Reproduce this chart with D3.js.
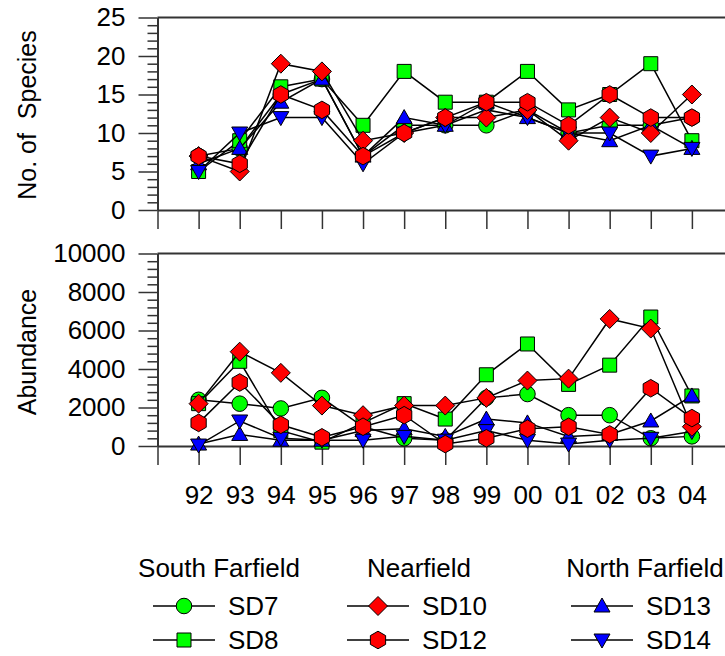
<!DOCTYPE html>
<html>
<head>
<meta charset="utf-8">
<script src="https://cdn.jsdelivr.net/npm/d3@7"></script>
<style>
body { margin: 0; background: #fff; }
text { font-family: Arial, "Liberation Sans", sans-serif; fill: #000; }
</style>
</head>
<body>
<script>
// data
var years = [1992, 1993, 1994, 1995, 1996, 1997, 1998, 1999, 2000, 2001, 2002, 2003, 2004];
var yearLabels = ["92", "93", "94", "95", "96", "97", "98", "99", "00", "01", "02", "03", "04"];
var stations = ["SD7", "SD8", "SD10", "SD12", "SD13", "SD14"];
var groups = ["South Farfield", "Nearfield", "North Farfield"];

var speciesSD7  = [7, 8, 15, 17, 7, 11, 11, 11, 13, 10, 11, 11, 12];
var speciesSD8  = [5, 9, 16, 17, 11, 18, 14, 14, 18, 13, 15, 19, 9];
var speciesSD10 = [7, 5, 19, 18, 9, 10, 12, 12, 13, 9, 12, 10, 15];
var speciesSD12 = [7, 6, 15, 13, 7, 10, 12, 14, 14, 11, 15, 12, 12];
var speciesSD13 = [6, 8, 14, 17, 7, 12, 11, 14, 12, 10, 9, 11, 8];
var speciesSD14 = [5, 10, 12, 12, 6, 10, 11, 13, 12, 10, 10, 7, 8];

var abundanceSD7  = [2400, 2200, 1950, 2500, 1000, 400, 300, 2500, 2700, 1600, 1600, 400, 500];
var abundanceSD8  = [2200, 4400, 800, 200, 1200, 2200, 1400, 3700, 5300, 3200, 4200, 6700, 2600];
var abundanceSD10 = [2200, 4900, 3800, 2100, 1600, 2100, 2100, 2500, 3400, 3500, 6600, 6100, 1000];
var abundanceSD12 = [1200, 3300, 1100, 450, 1000, 1600, 100, 400, 900, 1000, 600, 3000, 1450];
var abundanceSD13 = [100, 600, 300, 300, 800, 900, 500, 1400, 1200, 500, 600, 1300, 2600];
var abundanceSD14 = [50, 1300, 400, 300, 300, 500, 300, 800, 300, 100, 300, 400, 750];

var speciesTicks = [0, 5, 10, 15, 20, 25];
var abundanceTicks = [0, 2000, 4000, 6000, 8000, 10000];

var species = {SD7: speciesSD7, SD8: speciesSD8, SD10: speciesSD10, SD12: speciesSD12, SD13: speciesSD13, SD14: speciesSD14};
var abundance = {SD7: abundanceSD7, SD8: abundanceSD8, SD10: abundanceSD10, SD12: abundanceSD12, SD13: abundanceSD13, SD14: abundanceSD14};

// marker styles
var diamond = { draw: function (c, s) { var r = Math.sqrt(s) / 2; c.moveTo(0, -r); c.lineTo(r, 0); c.lineTo(0, r); c.lineTo(-r, 0); c.closePath(); } };
var hexagon = { draw: function (c, s) { var r = Math.sqrt(s) / 2; for (var i = 0; i < 6; i++) { var a = Math.PI / 3 * i - Math.PI / 2; if (i == 0) c.moveTo(r * Math.cos(a), r * Math.sin(a)); else c.lineTo(r * Math.cos(a), r * Math.sin(a)); } c.closePath(); } };
var triUp = { draw: function (c, s) { var r = Math.sqrt(s) / 2; c.moveTo(0, -r); c.lineTo(r, r * 0.75); c.lineTo(-r, r * 0.75); c.closePath(); } };
var triDown = { draw: function (c, s) { var r = Math.sqrt(s) / 2; c.moveTo(0, r); c.lineTo(r, -r * 0.75); c.lineTo(-r, -r * 0.75); c.closePath(); } };

var styles = {
    SD7:  {fill: "#00ff00", type: d3.symbolCircle, size: 190},
    SD8:  {fill: "#00ff00", type: d3.symbolSquare, size: 196},
    SD10: {fill: "#ff0000", type: diamond, size: 361},
    SD12: {fill: "#ff0000", type: hexagon, size: 310},
    SD13: {fill: "#0000ff", type: triUp, size: 256},
    SD14: {fill: "#0000ff", type: triDown, size: 256}
};
var drawOrder = ["SD7", "SD8", "SD13", "SD14", "SD10", "SD12"];
var legendCols = [["SD7", "SD8"], ["SD10", "SD12"], ["SD13", "SD14"]];

var width = 725, height = 656;
var fontSize = 26;
var titleSize = 25;
var fontFamily = "Arial, 'Liberation Sans', sans-serif";

var svg = d3.select("body").append("svg")
    .attr("width", width)
    .attr("height", height);

var xScale = d3.scaleLinear().domain([1991, 2005]).range([157.5, 733]);
var ySpecies = d3.scaleLinear().domain([0, 25]).range([210, 17.5]);
var yAbundance = d3.scaleLinear().domain([0, 10000]).range([446, 253.5]);

function drawPanel(yScale, majors, minorStep, values, title, titleY, showLabels) {
    var g = svg.append("g");
    var top = yScale.range()[1];
    var bottom = yScale.range()[0];

    // top border
    g.append("line")
        .attr("x1", xScale.range()[0]).attr("x2", width)
        .attr("y1", top).attr("y2", top)
        .attr("stroke", "#333").attr("stroke-width", 2);

    // minor y ticks
    var minors = d3.range(0, yScale.domain()[1] + 1, minorStep).filter(function (v) { return majors.indexOf(v) < 0; });
    g.append("g")
        .attr("transform", "translate(" + xScale.range()[0] + ",0)")
        .call(d3.axisLeft(yScale).tickValues(minors).tickSize(10).tickFormat(""))
        .call(function (a) { a.select(".domain").remove(); a.selectAll("line").attr("stroke", "#333").attr("stroke-width", 1.5); });

    // major y ticks + labels
    g.append("g")
        .attr("transform", "translate(" + xScale.range()[0] + ",0)")
        .call(d3.axisLeft(yScale).tickValues(majors).tickSize(19).tickSizeOuter(0).tickPadding(13).tickFormat(d3.format("d")))
        .call(function (a) {
            a.select(".domain").attr("stroke", "#333").attr("stroke-width", 2);
            a.selectAll("line").attr("stroke", "#333").attr("stroke-width", 1.5);
            a.selectAll("text").attr("font-size", fontSize).attr("font-family", fontFamily);
        });

    // x axis
    g.append("g")
        .attr("transform", "translate(0," + bottom + ")")
        .call(d3.axisBottom(xScale).tickValues(d3.range(1991, 2006)).tickSize(19).tickSizeOuter(0).tickPadding(21)
            .tickFormat(function (d) {
                var i = years.indexOf(d);
                return (showLabels && i >= 0) ? yearLabels[i] : "";
            }))
        .call(function (a) {
            a.select(".domain").attr("stroke", "#333").attr("stroke-width", 2);
            a.selectAll("line").attr("stroke", "#333").attr("stroke-width", 1.5);
            a.selectAll("text").attr("font-size", fontSize).attr("font-family", fontFamily);
        });

    // axis title
    g.append("text")
        .attr("transform", "translate(36," + titleY + ") rotate(-90)")
        .attr("text-anchor", "middle")
        .attr("font-size", titleSize)
        .style("white-space", "pre")
        .text(title);

    // series
    var line = d3.line()
        .x(function (d) { return xScale(d.year); })
        .y(function (d) { return yScale(d.v); });

    drawOrder.forEach(function (st) {
        var pts = years.map(function (yr, i) { return {year: yr, v: values[st][i]}; });
        var s = g.append("g").attr("class", "series " + st);
        s.append("path")
            .datum(pts)
            .attr("d", line)
            .attr("fill", "none")
            .attr("stroke", "#000")
            .attr("stroke-width", 1.5);
        s.selectAll(".mk").data(pts).enter()
            .append("path")
            .attr("class", "mk")
            .attr("d", d3.symbol(styles[st].type, styles[st].size))
            .attr("transform", function (d) { return "translate(" + xScale(d.year) + "," + yScale(d.v) + ")"; })
            .attr("fill", styles[st].fill)
            .attr("stroke", "#000")
            .attr("stroke-width", 1);
    });
}

drawPanel(ySpecies, speciesTicks, 1, species, "No. of  Species", 115, false);
drawPanel(yAbundance, abundanceTicks, 400, abundance, "Abundance", 352, true);

// legend
var legendX = [153, 347, 571];
var headerX = [219, 419, 645];
var rowY = [606, 640];
var legend = svg.append("g");
groups.forEach(function (grp, i) {
    legend.append("text")
        .attr("x", headerX[i])
        .attr("y", 577)
        .attr("text-anchor", "middle")
        .attr("font-size", fontSize)
        .text(grp);
    legendCols[i].forEach(function (st, j) {
        var lx = legendX[i];
        var ly = rowY[j];
        legend.append("line")
            .attr("x1", lx).attr("x2", lx + 62)
            .attr("y1", ly).attr("y2", ly)
            .attr("stroke", "#000").attr("stroke-width", 1.5);
        legend.append("path")
            .attr("d", d3.symbol(styles[st].type, styles[st].size)())
            .attr("transform", "translate(" + (lx + 31) + "," + ly + ")")
            .attr("fill", styles[st].fill)
            .attr("stroke", "#000")
            .attr("stroke-width", 1);
        legend.append("text")
            .attr("x", lx + 75)
            .attr("y", ly + 9)
            .attr("font-size", fontSize)
            .text(st);
    });
});
</script>
</body>
</html>
